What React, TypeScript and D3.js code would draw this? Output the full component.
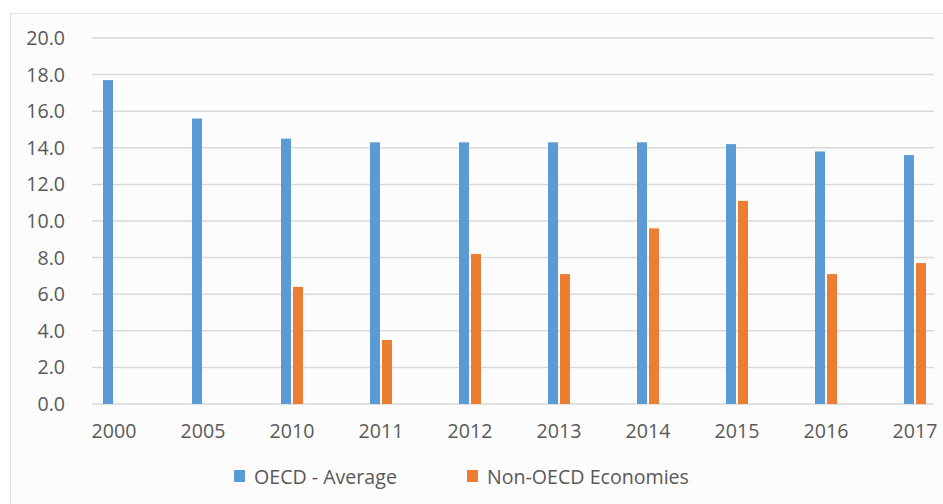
import React from "react";
import * as d3 from "d3";

const years = ["2000", "2005", "2010", "2011", "2012", "2013", "2014", "2015", "2016", "2017"];
const oecdAverage = [17.7, 15.6, 14.5, 14.3, 14.3, 14.3, 14.3, 14.2, 13.8, 13.6];
const nonOecd: (number | null)[] = [null, null, 6.4, 3.5, 8.2, 7.1, 9.6, 11.1, 7.1, 7.7];
const yTicks = [0, 2, 4, 6, 8, 10, 12, 14, 16, 18, 20];
const seriesNames = ["OECD - Average", "Non-OECD Economies"];
const seriesColors = ["#5B9BD5", "#ED7D31"];

const W = 943;
const H = 504;
const FONT = "'Open Sans', 'Noto Sans', sans-serif";
const TEXT = "#595959";
const FS = 19.6;

export default function App() {
  const gridLeft = 92;
  const gridRight = 934;
  const y = d3.scaleLinear().domain([0, 20]).range([404, 38]);
  const x = d3.scalePoint<string>().domain(years).range([114, 915]);
  const barW = 10;
  const gap = 2;

  return (
    <svg
      width={W}
      height={H}
      style={{ position: "fixed", left: 0, top: 0, background: "#ffffff" }}
      fontFamily={FONT}
    >
      {/* chart area */}
      <rect x={10.5} y={13.5} width={W} height={H} fill="#fcfcfc" stroke="#e3e3e3" strokeWidth={1} />

      {/* gridlines and y labels */}
      {yTicks.map((t) => (
        <g key={t}>
          <line x1={gridLeft} x2={gridRight} y1={y(t)} y2={y(t)} stroke="#d9d9d9" strokeWidth={1.5} />
          <text x={65} y={y(t)} dy="0.36em" textAnchor="end" fontSize={FS} fill={TEXT}>
            {t.toFixed(1)}
          </text>
        </g>
      ))}

      {/* bars */}
      {years.map((yr, i) => {
        const cx = x(yr)!;
        const a = oecdAverage[i];
        const b = nonOecd[i];
        return (
          <g key={yr}>
            <rect x={cx - gap / 2 - barW} y={y(a)} width={barW} height={y(0) - y(a)} fill={seriesColors[0]} />
            {b != null && (
              <rect x={cx + gap / 2} y={y(b)} width={barW} height={y(0) - y(b)} fill={seriesColors[1]} />
            )}
            <text x={cx} y={438} textAnchor="middle" fontSize={FS} fill={TEXT}>
              {yr}
            </text>
          </g>
        );
      })}

      {/* legend */}
      {seriesNames.map((name, i) => {
        const lx = i === 0 ? 234 : 467;
        return (
          <g key={name}>
            <rect x={lx} y={470} width={11} height={12} fill={seriesColors[i]} />
            <text x={lx + 20} y={483.5} fontSize={FS} fill={TEXT}>
              {name}
            </text>
          </g>
        );
      })}
    </svg>
  );
}
